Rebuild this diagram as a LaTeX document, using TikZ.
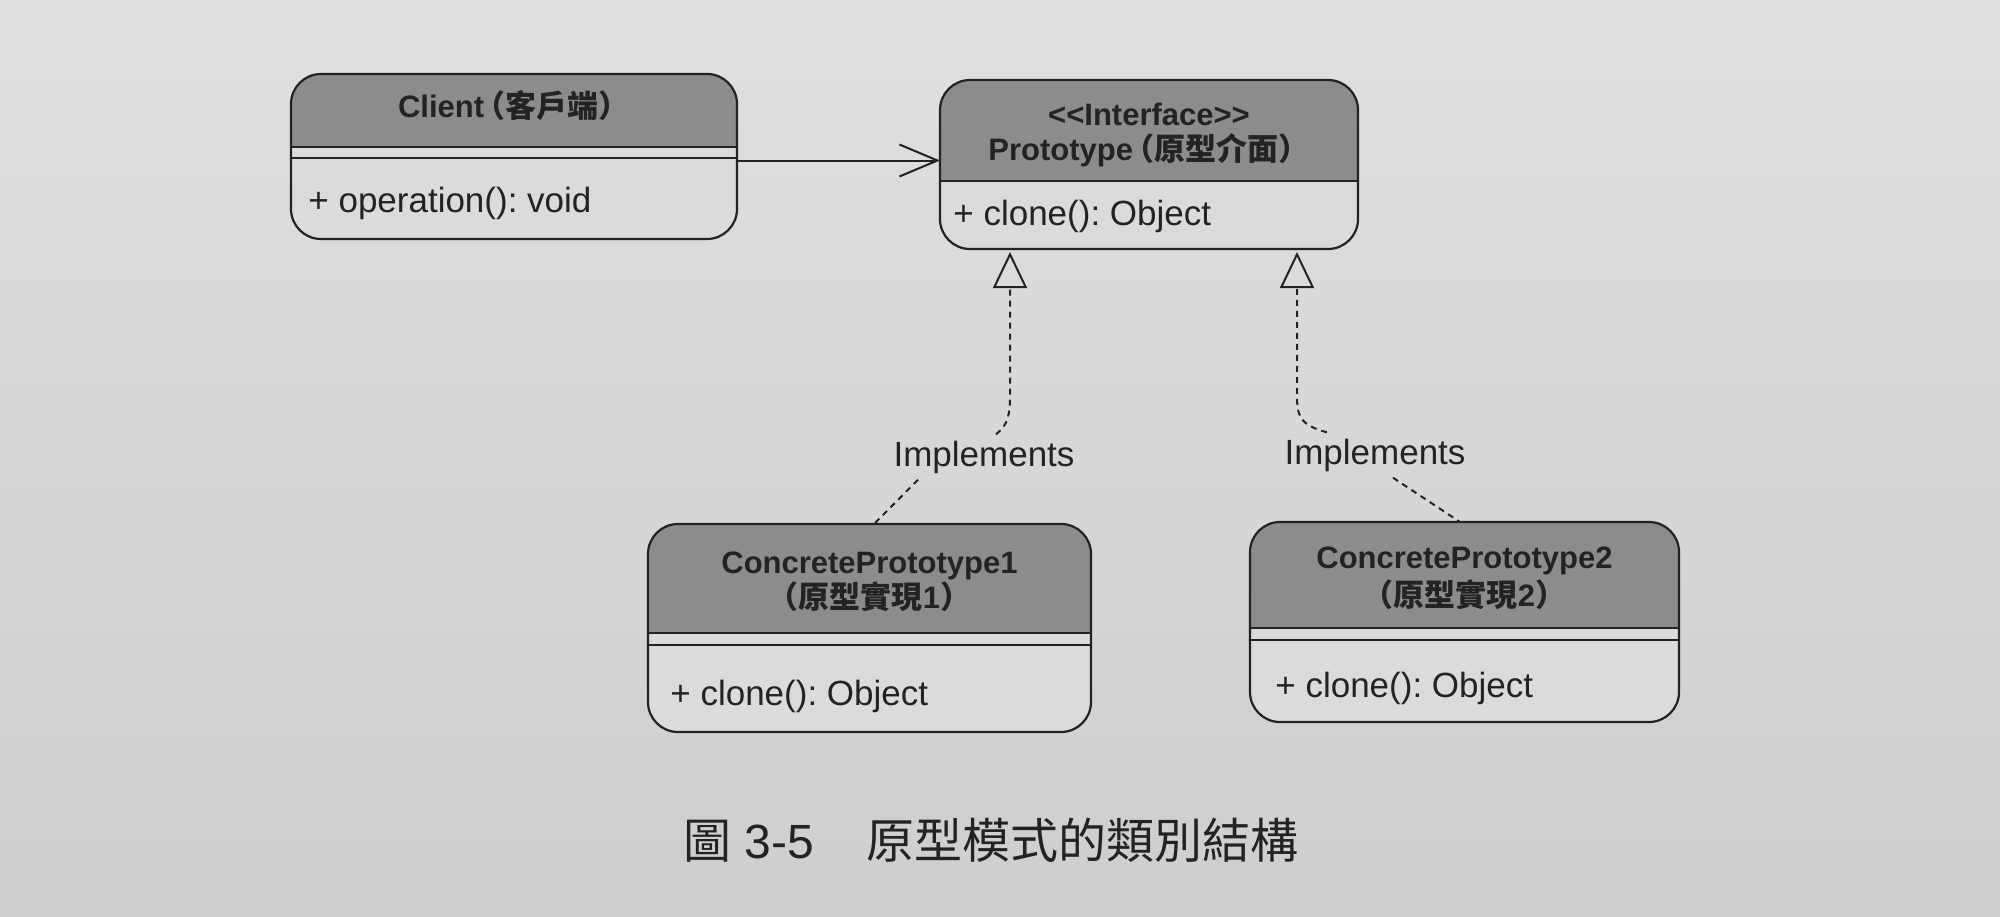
\documentclass[tikz,border=0pt]{standalone}
\usepackage{fontspec}
\setmainfont{Liberation Sans}
\newfontfamily\cjk{Noto Sans CJK TC}
\usetikzlibrary{arrows.meta,fit,calc}
\frenchspacing
\definecolor{bgtop}{RGB}{224,224,222}
\definecolor{bgbot}{RGB}{206,206,204}
\definecolor{bodycol}{RGB}{219,219,217}
\definecolor{headcol}{RGB}{140,140,138}
\definecolor{inkcol}{RGB}{35,35,35}
\newcommand\umlbox[6]{%
  \node[fit={(#2,#3)(#4,#5)}, inner sep=0pt, outer sep=0pt, rounded corners=15pt, fill=bodycol] (#1) {};
  \begin{scope}
    \clip (#2,#3) rectangle (#4,#6);
    \fill[headcol, rounded corners=15pt] (#1.north west) rectangle (#1.south east);
  \end{scope}
  \draw[boxline, rounded corners=15pt] (#1.north west) rectangle (#1.south east);
  \draw[boxline] (#2,#6) -- (#4,#6);
}
\begin{document}
\frenchspacing
\begin{tikzpicture}[x=0.5pt,y=-0.5pt,
  boxline/.style={draw=inkcol, line width=1.1pt},
  headtxt/.style={font=\fontsize{15.5}{18}\selectfont\bfseries, text=inkcol, inner sep=0pt, anchor=base},
  bodytxt/.style={font=\fontsize{17.5}{20}\selectfont, text=inkcol, inner sep=0pt, anchor=base west},
  impltxt/.style={font=\fontsize{17.5}{20}\selectfont, text=inkcol, inner sep=3pt},
  dashline/.style={draw=inkcol, line width=1pt, dash pattern=on 3pt off 2.5pt},
  realize/.style={dashline, shorten >=1.5pt, -{Triangle[open, length=18pt, width=17pt, line width=1pt]}},
  assoc/.style={draw=inkcol, line width=1pt, -{Straight Barb[length=19pt, width=16pt, line width=1pt]}}
]
\useasboundingbox (0,0) rectangle (2000,916);
\shade[top color=bgtop, bottom color=bgbot] (0,0) rectangle (2000,916);

% Client
\umlbox{client}{291}{74}{737}{239}{147}
\draw[boxline] (291,158) -- (737,158);
\node[headtxt] (clientname) at (514,117) {Client{\cjk\kern-.3em（客戶端）}};
\node[bodytxt] (clientop) at (308,212) {+ operation(): void};

% Prototype
\umlbox{proto}{940}{80}{1358}{249}{181}
\node[headtxt] (protost) at (1149,125) {<{}<Interface>{}>};
\node[headtxt] (protoname) at (1149,160) {Prototype{\cjk\kern-.3em（原型介面）}};
\node[bodytxt] (protoop) at (953,225) {+ clone(): Object};

% ConcretePrototype1
\umlbox{cp1}{648}{524}{1091}{732}{633}
\draw[boxline] (648,645) -- (1091,645);
\node[headtxt] (cp1n1) at (869.5,573) {ConcretePrototype1};
\node[headtxt] (cp1n2) at (869.5,608) {{\cjk（原型實現}1{\cjk）}};
\node[bodytxt] (cp1op) at (670,705) {+ clone(): Object};

% ConcretePrototype2
\umlbox{cp2}{1250}{522}{1679}{722}{628}
\draw[boxline] (1250,640) -- (1679,640);
\node[headtxt] (cp2n1) at (1464.5,568) {ConcretePrototype2};
\node[headtxt] (cp2n2) at (1464.5,606) {{\cjk（原型實現}2{\cjk）}};
\node[bodytxt] (cp2op) at (1275,697) {+ clone(): Object};

% labels
\node[impltxt] (impl1) at (984,457) {Implements};
\node[impltxt] (impl2) at (1375,455) {Implements};

% connectors
\coordinate (t1) at (1010,249);
\coordinate (t2) at (1297,249);
\draw[assoc] ([yshift=-2pt]client.east) -- ([yshift=-2pt]client.east -| proto.west);
\draw[realize] ([xshift=6pt]impl1.north) .. controls (1008,425) and (1010,415) .. (1010,395) -- (t1);
\draw[dashline] ([xshift=-33pt]impl1.south) -- ([xshift=113pt]cp1.north west);
\draw[realize] ([xshift=-24pt]impl2.north) .. controls (1299,425) and (1297,415) .. (1297,395) -- (t2);
\draw[dashline] ([xshift=9pt]impl2.south) -- ([xshift=105pt]cp2.north west);

% caption
\node[font=\fontsize{24}{28}\selectfont, text=inkcol, anchor=base west, inner sep=0pt] (cap) at (683,858) {{\cjk 圖} 3-5\hspace{1.1em}{\cjk 原型模式的類別結構}};
\end{tikzpicture}
\end{document}
